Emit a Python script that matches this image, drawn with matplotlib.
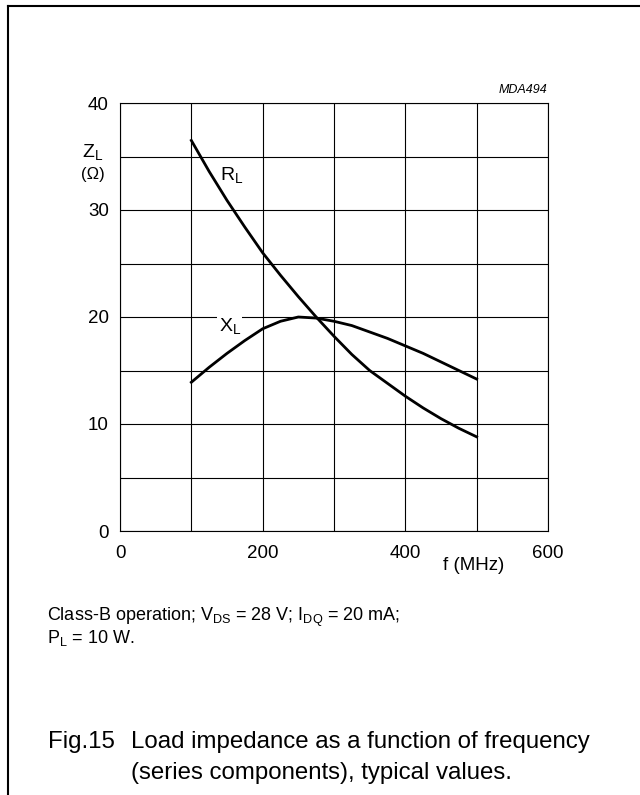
import matplotlib
matplotlib.use("Agg")
import matplotlib.pyplot as plt
from matplotlib.lines import Line2D

plt.rcParams['font.family'] = ['Liberation Sans', 'DejaVu Sans']
plt.rcParams['mathtext.fontset'] = 'custom'
plt.rcParams['mathtext.rm'] = 'Liberation Sans'
plt.rcParams['mathtext.it'] = 'Liberation Sans:italic'

# --- data ---
freq = [100, 125, 150, 175, 200, 225, 250, 275, 300, 325, 350, 375, 400, 425, 450, 475, 500]
r_load = [36.5, 33.6, 30.9, 28.4, 26.0, 23.9, 21.9, 20.0, 18.2, 16.5, 15.0, 13.8, 12.6, 11.5, 10.5, 9.6, 8.8]
x_load = [13.9, 15.3, 16.6, 17.8, 18.9, 19.6, 20.0, 19.9, 19.6, 19.2, 18.6, 18.0, 17.3, 16.6, 15.8, 15.0, 14.2]

x_major = [0, 200, 400, 600]
x_minor = [100, 300, 500]
y_major = [0, 10, 20, 30, 40]
y_minor = [5, 15, 25, 35]

W, H = 640, 795
fig = plt.figure(figsize=(W / 100, H / 100), dpi=100)
ax = fig.add_axes([120 / W, 1 - 531 / H, (548 - 120) / W, (531 - 103) / H])

ax.plot(freq, r_load, color='black', lw=2.0, zorder=3)
ax.plot(freq, x_load, color='black', lw=2.0, zorder=3)

ax.set_xlim(0, 600)
ax.set_ylim(0, 40)
ax.set_xticks(x_major)
ax.set_xticks(x_minor, minor=True)
ax.set_yticks(y_major)
ax.set_yticks(y_minor, minor=True)
ax.tick_params(which='both', length=0, labelsize=13.5)
ax.tick_params(axis='x', pad=10)
ax.tick_params(axis='y', pad=8)
ax.grid(which='both', color='black', lw=0.8)
for s in ax.spines.values():
    s.set_linewidth(0.8)

# curve labels
ax.text(156, 33.3, r'R$_{\rm L}$', fontsize=14, ha='center', va='center')
ax.text(154, 19.2, r'X$_{\rm L}$', fontsize=14, ha='center', va='center',
        bbox=dict(fc='white', ec='none', pad=1.0), zorder=2)

def px(x, y):
    return x / W, 1 - y / H

fig.text(*px(547, 90), 'MDA494', fontsize=9, style='italic', ha='right', va='center')
fig.text(*px(93, 152), r'Z$_{\rm L}$', fontsize=14, ha='center', va='center')
fig.text(*px(93, 174), '(Ω)', fontsize=12, ha='center', va='center')
fig.text(*px(474, 565), 'f (MHz)', fontsize=13.5, ha='center', va='center')

fig.text(*px(47, 617), r'Class-B operation; V$_{\rm DS}$ = 28 V; I$_{\rm DQ}$ = 20 mA;',
         fontsize=13, ha='left', va='center')
fig.text(*px(47, 638), r'P$_{\rm L}$ = 10 W.', fontsize=13, ha='left', va='center')

fig.text(*px(48, 742), 'Fig.15', fontsize=17.3, ha='left', va='center')
fig.text(*px(131, 742), 'Load impedance as a function of frequency',
         fontsize=17.3, ha='left', va='center')
fig.text(*px(131, 773), '(series components), typical values.',
         fontsize=17.3, ha='left', va='center')

# page frame (left and top edges)
fig.add_artist(Line2D([8 / W, 8 / W], [0, 1 - 6 / H], color='black', lw=1.5,
                      transform=fig.transFigure))
fig.add_artist(Line2D([8 / W, 1], [1 - 6 / H, 1 - 6 / H], color='black', lw=1.5,
                      transform=fig.transFigure))

fig.savefig('out.png', dpi=100)
